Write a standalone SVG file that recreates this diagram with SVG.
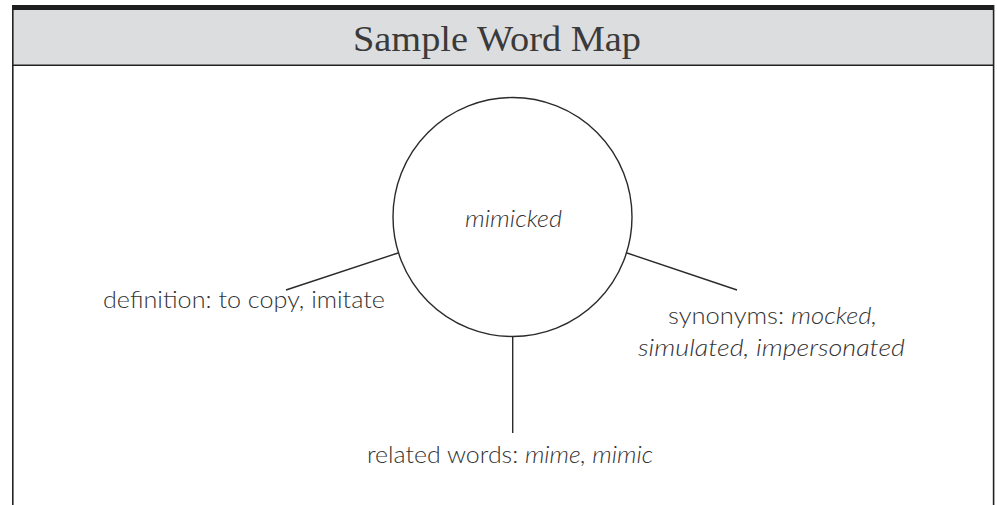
<svg xmlns="http://www.w3.org/2000/svg" width="997" height="505" viewBox="0 0 997 505">
  <style>
    .frame { fill: none; stroke: #222; stroke-width: 1.6; }
    .conn { stroke: #2a2a2a; stroke-width: 1.4; fill: none; }
    .hand { font-family: Lato, "Open Sans", "Liberation Sans", sans-serif; font-weight: 300; font-size: 24px; fill: #333; }
    .it { font-style: italic; }
    .title { font-family: "Liberation Serif", serif; font-size: 36px; fill: #3a3a3a; }
  </style>
  <rect x="0" y="0" width="997" height="505" fill="#fff"/>
  <g id="frame">
    <rect x="12" y="10" width="982" height="55" fill="#dcdddf"/>
    <rect x="12" y="5" width="982" height="5" fill="#1e1e1e"/>
    <line class="frame" x1="12.8" y1="5" x2="12.8" y2="505"/>
    <line class="frame" x1="993.6" y1="5" x2="993.6" y2="505"/>
    <line class="frame" x1="12" y1="65.3" x2="994" y2="65.3"/>
  </g>
  <g id="title">
    <text class="title" x="497" y="51" text-anchor="middle" textLength="288" lengthAdjust="spacingAndGlyphs">Sample Word Map</text>
  </g>
  <g id="connectors">
    <line class="conn" x1="398" y1="253" x2="286" y2="290"/>
    <line class="conn" x1="627" y1="253" x2="737" y2="290"/>
    <line class="conn" x1="512.7" y1="337" x2="512.7" y2="433"/>
  </g>
  <g id="center">
    <circle cx="512.5" cy="217" r="119.5" fill="none" stroke="#2a2a2a" stroke-width="1.4"/>
    <text class="hand it" x="465" y="227" textLength="97" lengthAdjust="spacingAndGlyphs">mimicked</text>
  </g>
  <g id="definition">
    <text class="hand" x="103" y="308" textLength="282" lengthAdjust="spacingAndGlyphs">definition: to copy, imitate</text>
  </g>
  <g id="synonyms">
    <text class="hand" x="668" y="324" textLength="209" lengthAdjust="spacingAndGlyphs">synonyms: <tspan class="it">mocked,</tspan></text>
    <text class="hand it" x="638" y="356" textLength="267" lengthAdjust="spacingAndGlyphs">simulated, impersonated</text>
  </g>
  <g id="related">
    <text class="hand" x="367" y="463" textLength="286" lengthAdjust="spacingAndGlyphs">related words: <tspan class="it">mime, mimic</tspan></text>
  </g>
</svg>
